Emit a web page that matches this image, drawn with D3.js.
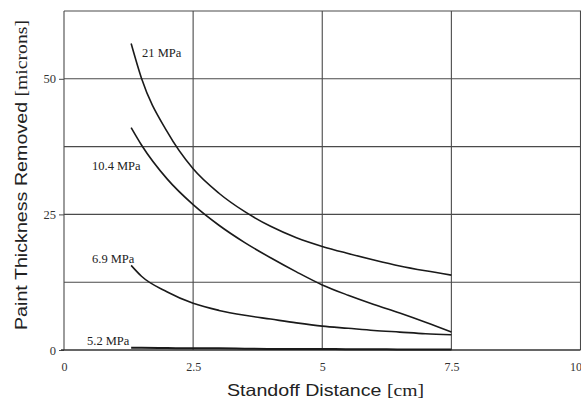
<!DOCTYPE html>
<html><head><meta charset="utf-8">
<script src="https://cdn.jsdelivr.net/npm/d3@7"></script>
<style>body{margin:0;background:#fff}</style>
</head><body>
<svg id="c" width="581" height="406"></svg>
<script>
const distances = [1.3, 1.5, 2, 2.5, 3, 3.5, 4, 4.5, 5, 5.5, 6, 6.5, 7, 7.5];
const seriesNames = ["21 MPa", "10.4 MPa", "6.9 MPa", "5.2 MPa"];
const thick21 = [56.5, 50.1, 40.2, 33.4, 28.9, 25.5, 22.8, 20.7, 19.1, 17.8, 16.6, 15.5, 14.6, 13.8];
const thick104 = [41.0, 37.8, 31.5, 26.8, 23.0, 19.8, 17.0, 14.4, 12.0, 10.1, 8.4, 6.8, 5.1, 3.3];
const thick69 = [15.6, 13.6, 10.7, 8.6, 7.3, 6.4, 5.7, 5.0, 4.4, 4.0, 3.6, 3.3, 3.0, 2.8];
const thick52 = [0.4, 0.4, 0.35, 0.3, 0.3, 0.25, 0.2, 0.2, 0.2, 0.15, 0.15, 0.1, 0.1, 0.1];
const xTickVals = [0, 2.5, 5, 7.5, 10];
const xTickLabels = ["0", "2.5", "5", "7.5", "10"];
const yTickVals = [0, 25, 50];
const yGridVals = [12.5, 25, 37.5, 50, 62.5];

const svg = d3.select("#c");
const x = d3.scaleLinear().domain([0, 10]).range([64, 580.5]);
const y = d3.scaleLinear().domain([0, 62.5]).range([350, 11]);
const gridColor = "#4a4a4a";

// grid
svg.append("g").selectAll("line").data(yGridVals).join("line")
  .attr("x1", x(0)).attr("x2", 581).attr("y1", d => y(d)).attr("y2", d => y(d))
  .attr("stroke", gridColor).attr("stroke-width", 1.1);
svg.append("g").selectAll("line").data([2.5, 5, 7.5, 10]).join("line")
  .attr("x1", d => x(d)).attr("x2", d => x(d)).attr("y1", y(62.5)).attr("y2", y(0))
  .attr("stroke", gridColor).attr("stroke-width", 1.1);

// axes
const yAxis = d3.axisLeft(y).tickValues(yTickVals).tickSize(5).tickPadding(3).tickFormat(d3.format("d"));
const gy = svg.append("g").attr("transform", `translate(${x(0)},0)`).call(yAxis);
gy.select(".domain").attr("stroke", gridColor).attr("stroke-width", 1.1).attr("d", `M0,${y(62.5)}V${y(0)}`);
gy.selectAll(".tick line").attr("stroke", gridColor);
gy.selectAll("text").attr("font-family", "Liberation Serif, serif").attr("font-size", 12.5).attr("fill", "#333");

const xAxis = d3.axisBottom(x).tickValues(xTickVals).tickSize(0).tickPadding(12).tickFormat((d, i) => xTickLabels[i]);
const gx = svg.append("g").attr("transform", `translate(0,${y(0)})`).call(xAxis);
gx.select(".domain").attr("stroke", "#333").attr("stroke-width", 1.6).attr("d", `M${x(0) - 3},0H${x(10)}`);
gx.selectAll("text").attr("font-family", "Liberation Serif, serif").attr("font-size", 12).attr("fill", "#333")
  .attr("dx", (d, i) => i === xTickVals.length - 1 ? -5 : 0);

// curves
const line = d3.line().x(d => x(d[0])).y(d => y(d[1])).curve(d3.curveMonotoneX);
const allSeries = [thick21, thick104, thick69, thick52];
allSeries.forEach((vals, i) => {
  svg.append("path").datum(distances.map((d, j) => [d, vals[j]]))
    .attr("d", line).attr("fill", "none").attr("stroke", "#1a1a1a")
    .attr("stroke-width", i === 3 ? 2 : 1.6);
});

// series labels
const labelPos = [[142, 57], [92, 170], [92, 263], [87, 345]];
seriesNames.forEach((n, i) => {
  svg.append("text").attr("x", labelPos[i][0]).attr("y", labelPos[i][1])
    .attr("font-family", "Liberation Serif, serif").attr("font-size", 12.5).attr("fill", "#222").text(n);
});

// axis titles
const xt = svg.append("text").attr("x", 227).attr("y", 396).attr("fill", "#222")
  .attr("textLength", 197).attr("lengthAdjust", "spacingAndGlyphs");
xt.append("tspan").attr("font-family", "Liberation Sans, Arial, sans-serif").attr("font-size", 16.5).text("Standoff Distance ");
xt.append("tspan").attr("font-family", "Liberation Serif, serif").attr("font-size", 16.5).text("[cm]");

const yt = svg.append("text").attr("transform", "translate(27,330) rotate(-90)").attr("fill", "#222")
  .attr("textLength", 310).attr("lengthAdjust", "spacingAndGlyphs");
yt.append("tspan").attr("font-family", "Liberation Sans, Arial, sans-serif").attr("font-size", 16.5).text("Paint Thickness Removed ");
yt.append("tspan").attr("font-family", "Liberation Serif, serif").attr("font-size", 16.5).text("[microns]");
</script>
</body></html>
